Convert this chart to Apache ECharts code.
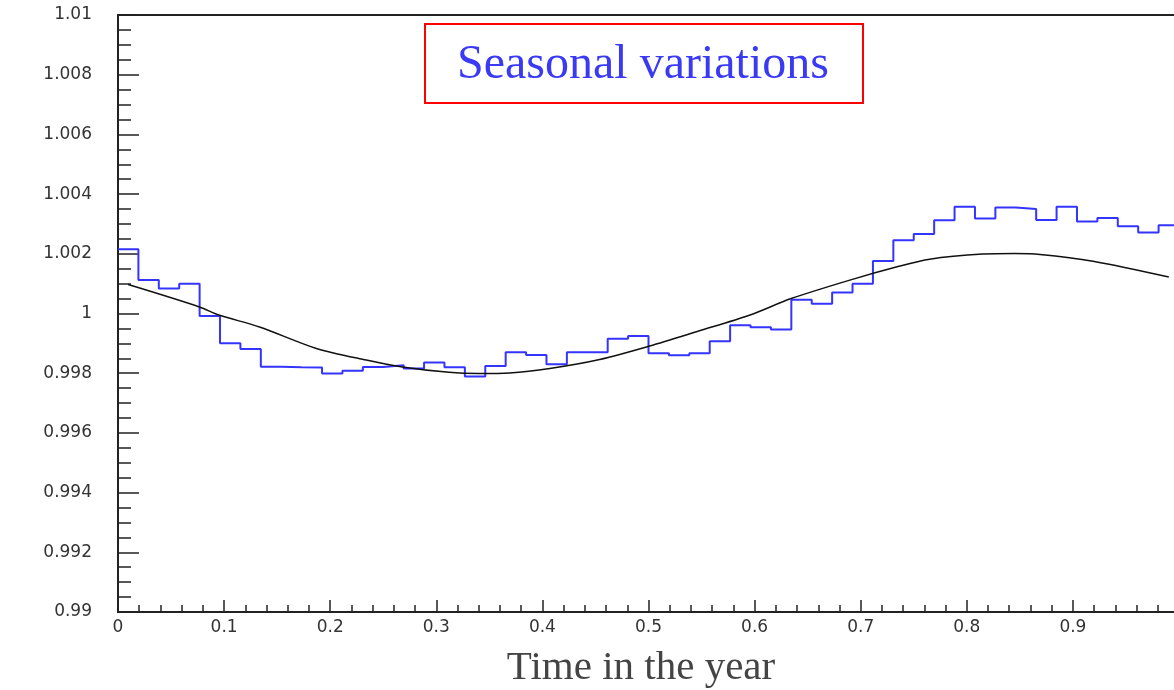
<!DOCTYPE html>
<html>
<head>
<meta charset="utf-8">
<script src="https://cdn.jsdelivr.net/npm/echarts@6/dist/echarts.min.js"></script>
<style>
  html, body { margin: 0; padding: 0; background: #fff; }
  #chart { width: 1174px; height: 690px; }
</style>
</head>
<body>
<div id="chart"></div>
<script>
// Weekly relative rate (52 bins across one year)
const weeklyRate = [
  1.00215, 1.00112, 1.00084, 1.00100, 0.99992, 0.99900, 0.99881, 0.99822,
  0.99820, 0.99819, 0.99799, 0.99808, 0.99821, 0.99827, 0.99816, 0.99836,
  0.99820, 0.99789, 0.99824, 0.99870, 0.99861, 0.99830, 0.99870, 0.99870,
  0.99915, 0.99925, 0.99867, 0.99860, 0.99867, 0.99907, 0.99961, 0.99954,
  0.99946, 1.00046, 1.00033, 1.00070, 1.00100, 1.00176, 1.00245, 1.00266,
  1.00312, 1.00358, 1.00318, 1.00355, 1.00350, 1.00313, 1.00358, 1.00308,
  1.00320, 1.00292, 1.00271, 1.00296
];

// Fitted seasonal curve: [time in year, relative rate]
const fitTime = [
  0.0096, 0.0768, 0.0957, 0.1334, 0.187, 0.234, 0.268, 0.312, 0.340, 0.369,
  0.407, 0.454, 0.501, 0.548, 0.595, 0.6345, 0.689, 0.736, 0.765, 0.815,
  0.845, 0.869, 0.919, 0.9904
];
const fitRate = [
  1.00097, 1.00022, 0.99994, 0.99955, 0.99883, 0.99844, 0.99821, 0.99803, 0.99799, 0.99801,
  0.99816, 0.99846, 0.99891, 0.99942, 0.99994, 1.00050, 1.00111, 1.00158, 1.00182, 1.00199,
  1.00201, 1.00198, 1.00175, 1.00122
];

const yTicks = { min: 0.99, max: 1.01, step: 0.002 };
const xTicks = { min: 0, max: 1, step: 0.1 };

const nBins = weeklyRate.length;
const histData = weeklyRate.map((v, i) => [i / nBins, v]);
histData.push([1, weeklyRate[nBins - 1]]);
const fitData = fitTime.map((t, i) => [t, fitRate[i]]);

const tickFont = { fontFamily: 'DejaVu Sans', fontSize: 17, color: '#333' };
const fmt = v => String(parseFloat(v.toFixed(4)));

const chart = echarts.init(document.getElementById('chart'), null, { renderer: 'canvas' });
chart.setOption({
  animation: false,
  backgroundColor: '#fff',
  grid: {
    left: 118, top: 15, width: 1061, height: 597,
    outerBoundsMode: 'none', containLabel: false,
    show: true, borderColor: '#222', borderWidth: 2, backgroundColor: 'transparent'
  },
  xAxis: {
    type: 'value', min: xTicks.min, max: xTicks.max, interval: xTicks.step,
    axisLine: { onZero: false, lineStyle: { color: '#222', width: 2 } },
    axisTick: { inside: true, length: 12, lineStyle: { color: '#222', width: 1.5 } },
    minorTick: { show: true, splitNumber: 5, length: 7, lineStyle: { color: '#222', width: 1.5 } },
    splitLine: { show: false },
    axisLabel: Object.assign({ margin: 7, formatter: fmt }, tickFont)
  },
  yAxis: {
    type: 'value', min: yTicks.min, max: yTicks.max, interval: yTicks.step,
    axisLine: { onZero: false, lineStyle: { color: '#222', width: 2 } },
    axisTick: { inside: true, length: 21, lineStyle: { color: '#222', width: 1.5 } },
    minorTick: { show: true, splitNumber: 4, length: 13, lineStyle: { color: '#222', width: 1.5 } },
    splitLine: { show: false },
    axisLabel: Object.assign({ margin: 26, formatter: fmt }, tickFont)
  },
  series: [
    {
      type: 'line', data: histData, step: 'end', symbol: 'none',
      lineStyle: { color: '#3434ff', width: 2 }, z: 3
    },
    {
      type: 'line', data: fitData, smooth: 0.3, symbol: 'none',
      lineStyle: { color: '#111', width: 1.5 }, z: 4
    }
  ],
  graphic: [
    {
      type: 'rect', left: 424, top: 23,
      shape: { width: 438, height: 79 },
      style: { fill: '#fff', stroke: '#ff0000', lineWidth: 2 }, z: 10
    },
    {
      type: 'text', x: 643, y: 65,
      style: {
        text: 'Seasonal variations', fill: '#3a3af5',
        font: '48px "Liberation Serif"', align: 'center', verticalAlign: 'middle'
      }, z: 11
    },
    {
      type: 'text', x: 641, y: 668,
      style: {
        text: 'Time in the year', fill: '#444',
        font: '41px "Liberation Serif"', align: 'center', verticalAlign: 'middle'
      }, z: 11
    }
  ]
});
</script>
</body>
</html>
